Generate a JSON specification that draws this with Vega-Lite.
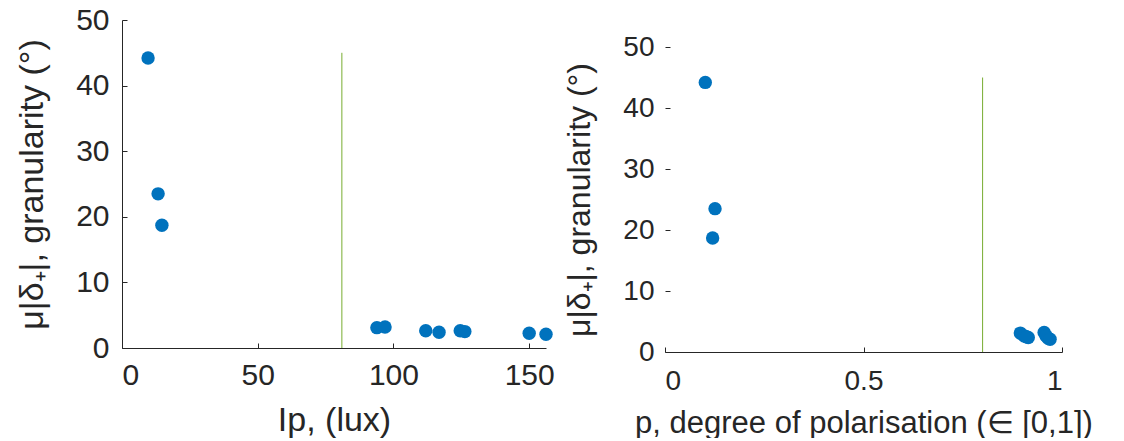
{
  "$schema": "https://vega.github.io/schema/vega-lite/v6.json",
  "padding": {"left": 15, "top": 5, "right": 5, "bottom": 0},
  "background": "white",
  "config": {
    "font": "Liberation Sans",
    "view": {"stroke": null},
    "axis": {
      "grid": false,
      "domainColor": "#262626",
      "tickColor": "#262626",
      "labelColor": "#262626",
      "titleColor": "#262626",
      "tickSize": -5,
      "domainWidth": 1,
      "tickWidth": 1,
      "labelFont": "Liberation Sans",
      "titleFont": "Liberation Sans",
      "titleFontWeight": "normal"
    }
  },
  "datasets": {
    "samples": [
      {"lux": 9.6, "p": 0.1015, "g": 44.2},
      {"lux": 13.3, "p": 0.126, "g": 23.5},
      {"lux": 14.7, "p": 0.12, "g": 18.7},
      {"lux": 93.9, "p": 0.895, "g": 3.1},
      {"lux": 96.9, "p": 0.955, "g": 3.2},
      {"lux": 111.9, "p": 0.905, "g": 2.64},
      {"lux": 116.8, "p": 0.915, "g": 2.39},
      {"lux": 124.6, "p": 0.96, "g": 2.64},
      {"lux": 126.3, "p": 0.91, "g": 2.5},
      {"lux": 150.0, "p": 0.965, "g": 2.24},
      {"lux": 156.2, "p": 0.97, "g": 2.09}
    ],
    "threshold": [
      {"lux": 81, "p": 0.8, "lo": 0, "hi": 45}
    ]
  },
  "spacing": 8,
  "hconcat": [
    {
      "width": 424,
      "height": 328,
      "layer": [
        {
          "data": {"name": "threshold"},
          "mark": {"type": "rule", "color": "#77AC30", "strokeWidth": 1},
          "encoding": {
            "x": {"field": "lux", "type": "quantitative"},
            "y": {"field": "lo", "type": "quantitative"},
            "y2": {"field": "hi"}
          }
        },
        {
          "data": {"name": "samples"},
          "mark": {"type": "point", "filled": true, "opacity": 1, "color": "#0072BD", "size": 180},
          "encoding": {
            "x": {
              "field": "lux", "type": "quantitative",
              "scale": {"domain": [0, 156.2], "nice": false},
              "axis": {"values": [0, 50, 100, 150], "title": "Ip, (lux)", "labelFontSize": 30, "titleFontSize": 34, "labelPadding": 17, "titlePadding": 13}
            },
            "y": {
              "field": "g", "type": "quantitative",
              "scale": {"domain": [0, 50], "nice": false},
              "axis": {"values": [0, 10, 20, 30, 40, 50], "title": "μ|δ₊|, granularity (°)", "labelFontSize": 30, "titleFontSize": 34, "labelPadding": 18, "titlePadding": 26}
            }
          }
        }
      ]
    },
    {
      "width": 397,
      "height": 332,
      "layer": [
        {
          "data": {"name": "threshold"},
          "mark": {"type": "rule", "color": "#77AC30", "strokeWidth": 1},
          "encoding": {
            "x": {"field": "p", "type": "quantitative"},
            "y": {"field": "lo", "type": "quantitative"},
            "y2": {"field": "hi"}
          }
        },
        {
          "mark": {"type": "rule", "color": "#262626", "strokeWidth": 1},
          "encoding": {
            "x": {"datum": 0, "type": "quantitative"},
            "y": {"datum": 0, "type": "quantitative"},
            "y2": {"datum": 50}
          }
        },
        {
          "data": {"name": "samples"},
          "mark": {"type": "point", "filled": true, "opacity": 1, "color": "#0072BD", "size": 180},
          "encoding": {
            "x": {
              "field": "p", "type": "quantitative",
              "scale": {"domain": [0, 1], "nice": false},
              "axis": {"values": [0, 0.5, 1], "format": "~g", "title": "p, degree of polarisation (∈ [0,1])", "labelFontSize": 28, "titleFontSize": 31, "labelPadding": 20, "titlePadding": 13}
            },
            "y": {
              "field": "g", "type": "quantitative",
              "scale": {"domain": [0, 54.43], "nice": false},
              "axis": {"values": [0, 10, 20, 30, 40, 50], "domain": false, "title": "μ|δ₊|, granularity (°)", "labelFontSize": 28, "titleFontSize": 32, "labelPadding": 16, "titlePadding": 26, "titleY": 179.5}
            }
          }
        }
      ]
    }
  ]
}
